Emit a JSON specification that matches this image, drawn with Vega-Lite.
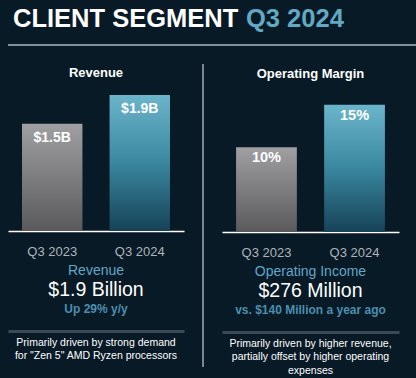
{
  "$schema": "https://vega.github.io/schema/vega-lite/v6.json",
  "background": "#081a26",
  "padding": {"left": 7, "top": 0, "right": 0, "bottom": 2},
  "config": {
    "font": "Liberation Sans",
    "view": {"stroke": null},
    "axis": {"grid": false}
  },
  "spacing": 17,
  "vconcat": [
    {
      "width": 409,
      "height": 45,
      "layer": [
        {
          "data": {"values": [{"part": "CLIENT SEGMENT"}, {"part": "Q3 2024"}]},
          "mark": {"type": "text", "align": "left", "baseline": "middle", "fontSize": 25.5, "fontWeight": "bold", "dy": -3.5},
          "encoding": {
            "x": {"field": "part", "type": "nominal", "sort": null, "scale": {"type": "point", "range": [5, 238], "padding": 0}, "axis": null},
            "text": {"field": "part"},
            "color": {"field": "part", "type": "nominal", "scale": {"range": ["#ffffff", "#62a9c4"]}, "legend": null}
          }
        },
        {
          "data": {"values": [{"line": "underline"}]},
          "mark": {"type": "rule", "color": "#a7b8c4", "strokeWidth": 1.5},
          "encoding": {"y": {"datum": 0, "type": "quantitative", "scale": {"domain": [0, 1]}, "axis": null}}
        }
      ]
    },
    {
      "spacing": 18,
      "hconcat": [
        {
          "spacing": 3,
          "vconcat": [
            {
              "spacing": 0,
              "vconcat": [
                {
                  "width": 176,
                  "height": 16,
                  "data": {"values": [{"heading": "Revenue"}]},
                  "mark": {"type": "text", "baseline": "middle", "dy": 0.5, "fontSize": 13, "fontWeight": "bold", "color": "#ffffff"},
                  "encoding": {"text": {"field": "heading"}}
                },
                {
                  "width": 176,
                  "height": 151,
                  "data": {"values": [
                    {"quarter": "Q3 2023", "value": 1.5, "label": "$1.5B"},
                    {"quarter": "Q3 2024", "value": 1.9, "label": "$1.9B"}
                  ]},
                  "encoding": {
                    "x": {"field": "quarter", "type": "nominal", "scale": {"paddingInner": 0.31, "paddingOuter": 0.16},
                      "axis": {"title": null, "labelAngle": 0, "ticks": false, "domainColor": "#ffffff", "domainWidth": 1.5, "labelColor": "#aeb4ba", "labelFontSize": 13, "labelPadding": 14, "labelFont": "Liberation Sans"}},
                    "y": {"field": "value", "type": "quantitative", "scale": {"domain": [0, 2.11]}, "axis": null}
                  },
                  "layer": [
                    {"transform": [{"filter": "datum.quarter === 'Q3 2023'"}],
                     "mark": {"type": "bar", "color": {"gradient": "linear", "x1": 0, "y1": 0, "x2": 0, "y2": 1, "stops": [{"offset": 0, "color": "#a0a0a2"}, {"offset": 1, "color": "#5a5a5c"}]}}},
                    {"transform": [{"filter": "datum.quarter === 'Q3 2024'"}],
                     "mark": {"type": "bar", "color": {"gradient": "linear", "x1": 0, "y1": 0, "x2": 0, "y2": 1, "stops": [{"offset": 0, "color": "#6bb5cb"}, {"offset": 0.5, "color": "#3a879f"}, {"offset": 1, "color": "#164257"}]}}},
                    {"mark": {"type": "text", "baseline": "middle", "dy": 14, "fontSize": 14, "fontWeight": "bold", "color": "#ffffff"},
                     "encoding": {"text": {"field": "label"}}}
                  ]
                }
              ]
            },
            {
              "spacing": 13,
              "vconcat": [
                {
                  "width": 176,
                  "height": 57,
                  "data": {"values": [
                    {"line": 1, "role": "heading", "text": "Revenue"},
                    {"line": 2, "role": "value", "text": "$1.9 Billion"},
                    {"line": 3, "role": "change", "text": "Up 29% y/y"}
                  ]},
                  "encoding": {
                    "y": {"field": "line", "type": "ordinal", "scale": {"type": "point", "padding": 0.5}, "axis": null},
                    "text": {"field": "text"}
                  },
                  "layer": [
                    {"transform": [{"filter": "datum.role === 'heading'"}], "mark": {"type": "text", "fontSize": 14, "color": "#62a6c6", "baseline": "middle"}},
                    {"transform": [{"filter": "datum.role === 'value'"}], "mark": {"type": "text", "fontSize": 19.5, "color": "#ffffff", "baseline": "middle"}},
                    {"transform": [{"filter": "datum.role === 'change'"}], "mark": {"type": "text", "fontSize": 12, "fontWeight": "bold", "color": "#4a8fae", "baseline": "middle"}}
                  ]
                },
                {
                  "width": 176,
                  "height": {"step": 13.5},
                  "data": {"values": [
                    {"panel": "Revenue", "line": 1, "text": "Primarily driven by strong demand"},
                    {"panel": "Revenue", "line": 2, "text": "for \"Zen 5\" AMD Ryzen processors"}
                  ]},
                  "mark": {"type": "text", "fontSize": 10.5, "color": "#ffffff", "baseline": "middle"},
                  "encoding": {
                    "x": {"field": "panel", "type": "nominal", "scale": {"type": "point", "padding": 0.5},
                      "axis": {"orient": "top", "title": null, "labels": false, "ticks": false, "domainColor": "#3b4954", "domainWidth": 3, "offset": 5}},
                    "y": {"field": "line", "type": "ordinal", "scale": {"type": "point", "padding": 0.5}, "axis": null},
                    "text": {"field": "text"}
                  }
                }
              ]
            }
          ]
        },
        {
          "width": 1,
          "height": 303,
          "data": {"values": [{"divider": "panel divider"}]},
          "mark": {"type": "rule", "color": "#c9d3da", "strokeWidth": 1.2},
          "encoding": {"x": {"datum": 0, "type": "quantitative", "scale": {"domain": [0, 1]}, "axis": null}}
        },
        {
          "spacing": 3,
          "vconcat": [
            {
              "spacing": 0,
              "vconcat": [
                {
                  "width": 177,
                  "height": 16,
                  "data": {"values": [{"heading": "Operating Margin"}]},
                  "mark": {"type": "text", "baseline": "middle", "dy": 2, "fontSize": 13, "fontWeight": "bold", "color": "#ffffff"},
                  "encoding": {"text": {"field": "heading"}}
                },
                {
                  "width": 177,
                  "height": 151,
                  "data": {"values": [
                    {"quarter": "Q3 2023", "value": 10, "label": "10%"},
                    {"quarter": "Q3 2024", "value": 15, "label": "15%"}
                  ]},
                  "encoding": {
                    "x": {"field": "quarter", "type": "nominal", "scale": {"paddingInner": 0.31, "paddingOuter": 0.16},
                      "axis": {"title": null, "labelAngle": 0, "ticks": false, "domainColor": "#ffffff", "domainWidth": 1.5, "labelColor": "#aeb4ba", "labelFontSize": 13, "labelPadding": 14, "labelFont": "Liberation Sans"}},
                    "y": {"field": "value", "type": "quantitative", "scale": {"domain": [0, 17.8]}, "axis": null}
                  },
                  "layer": [
                    {"transform": [{"filter": "datum.quarter === 'Q3 2023'"}],
                     "mark": {"type": "bar", "color": {"gradient": "linear", "x1": 0, "y1": 0, "x2": 0, "y2": 1, "stops": [{"offset": 0, "color": "#a0a0a2"}, {"offset": 1, "color": "#5a5a5c"}]}}},
                    {"transform": [{"filter": "datum.quarter === 'Q3 2024'"}],
                     "mark": {"type": "bar", "color": {"gradient": "linear", "x1": 0, "y1": 0, "x2": 0, "y2": 1, "stops": [{"offset": 0, "color": "#6bb5cb"}, {"offset": 0.5, "color": "#3a879f"}, {"offset": 1, "color": "#164257"}]}}},
                    {"mark": {"type": "text", "baseline": "middle", "dy": 11, "fontSize": 14.5, "fontWeight": "bold", "color": "#ffffff"},
                     "encoding": {"text": {"field": "label"}}}
                  ]
                }
              ]
            },
            {
              "spacing": 13,
              "vconcat": [
                {
                  "width": 177,
                  "height": 57,
                  "data": {"values": [
                    {"line": 1, "role": "heading", "text": "Operating Income"},
                    {"line": 2, "role": "value", "text": "$276 Million"},
                    {"line": 3, "role": "change", "text": "vs. $140 Million a year ago"}
                  ]},
                  "encoding": {
                    "y": {"field": "line", "type": "ordinal", "scale": {"type": "point", "padding": 0.5}, "axis": null},
                    "text": {"field": "text"}
                  },
                  "layer": [
                    {"transform": [{"filter": "datum.role === 'heading'"}], "mark": {"type": "text", "fontSize": 14, "color": "#62a6c6", "baseline": "middle"}},
                    {"transform": [{"filter": "datum.role === 'value'"}], "mark": {"type": "text", "fontSize": 19.5, "color": "#ffffff", "baseline": "middle"}},
                    {"transform": [{"filter": "datum.role === 'change'"}], "mark": {"type": "text", "fontSize": 12, "fontWeight": "bold", "color": "#4a8fae", "baseline": "middle"}}
                  ]
                },
                {
                  "width": 177,
                  "height": {"step": 13.5},
                  "data": {"values": [
                    {"panel": "Operating Income", "line": 1, "text": "Primarily driven by higher revenue,"},
                    {"panel": "Operating Income", "line": 2, "text": "partially offset by higher operating"},
                    {"panel": "Operating Income", "line": 3, "text": "expenses"}
                  ]},
                  "mark": {"type": "text", "fontSize": 10.5, "color": "#ffffff", "baseline": "middle"},
                  "encoding": {
                    "x": {"field": "panel", "type": "nominal", "scale": {"type": "point", "padding": 0.5},
                      "axis": {"orient": "top", "title": null, "labels": false, "ticks": false, "domainColor": "#3b4954", "domainWidth": 3, "offset": 5}},
                    "y": {"field": "line", "type": "ordinal", "scale": {"type": "point", "padding": 0.5}, "axis": null},
                    "text": {"field": "text"}
                  }
                }
              ]
            }
          ]
        }
      ]
    }
  ]
}
